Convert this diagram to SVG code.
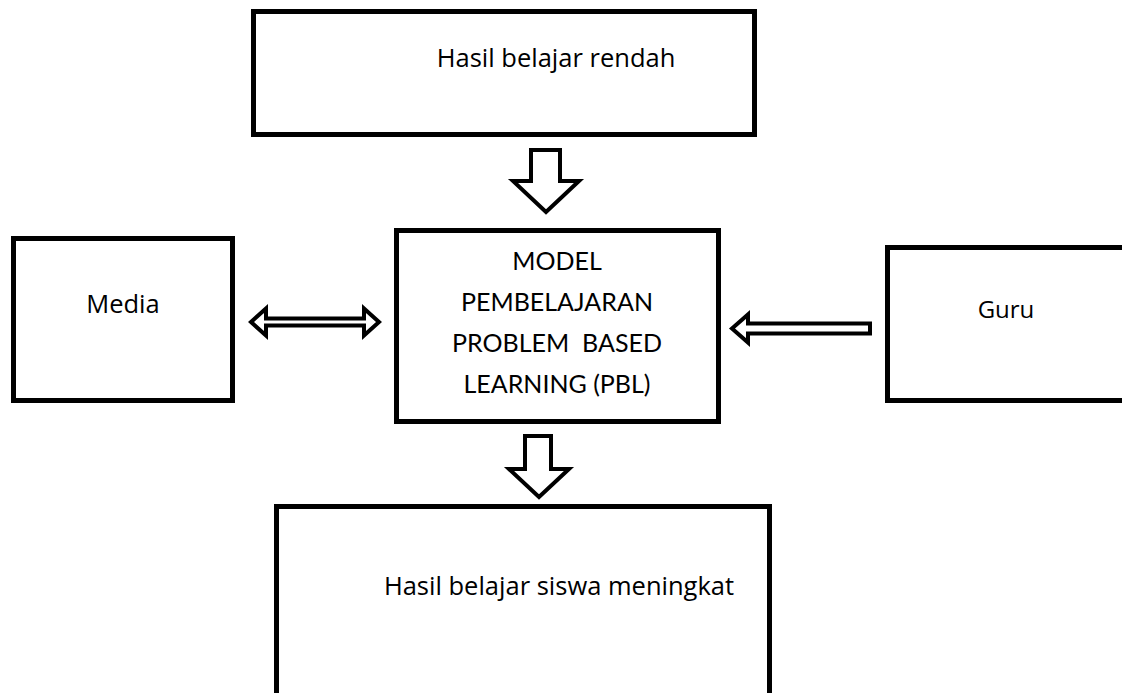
<svg xmlns="http://www.w3.org/2000/svg" width="1122" height="693" viewBox="0 0 1122 693">
<style>
.box{fill:#fff;stroke:#000;stroke-width:5}
.t{font-family:"Open Sans","Liberation Sans",sans-serif;font-size:25.5px;fill:#000;text-anchor:middle}
.c{font-family:Lato,"Open Sans","Liberation Sans",sans-serif;font-size:25px;fill:#000;text-anchor:middle}
.arr{fill:#fff;stroke:#000;stroke-width:4;stroke-linejoin:miter}
.arr2{fill:#fff;stroke:#000;stroke-width:4;stroke-linejoin:miter}
</style>
<rect width="1122" height="693" fill="#fff"/>
<g id="top">
<rect class="box" x="253.5" y="11.5" width="501" height="123"/>
<text class="t" x="556" y="67">Hasil belajar rendah</text>
</g>
<g id="media">
<rect class="box" x="13.5" y="238.5" width="219" height="162"/>
<text class="t" x="123" y="313">Media</text>
</g>
<g id="model">
<rect class="box" x="396.5" y="230.5" width="322" height="191"/>
<text class="c" x="557" y="270">MODEL</text>
<text class="c" x="557" y="311">PEMBELAJARAN</text>
<text class="c" x="557" y="352" xml:space="preserve">PROBLEM  BASED</text>
<text class="c" x="557" y="393">LEARNING (PBL)</text>
</g>
<g id="guru">
<rect class="box" x="887.5" y="247.5" width="300" height="153"/>
<text class="t" x="1006" y="318" style="font-size:24px">Guru</text>
</g>
<g id="bottom">
<rect class="box" x="276.5" y="506.5" width="493" height="250"/>
<text class="t" x="559" y="595">Hasil belajar siswa meningkat</text>
</g>
<g id="connectors">
<path class="arr" d="M531,150 L560,150 L560,181 L579,181 L546,212 L513,181 L531,181 Z"/>
<path class="arr" d="M525,436 L551,436 L551,469 L569,469 L539,497 L509,469 L525,469 Z"/>
<path class="arr2" d="M251,322 L266,308.5 L266,318.5 L364,318.5 L364,308.5 L379,322 L364,335.5 L364,325.5 L266,325.5 L266,335.5 Z"/>
<path class="arr2" d="M732,328.5 L748,314.5 L748,323.5 L870,323.5 L870,333.5 L748,333.5 L748,342.5 Z"/>
</g>
</svg>
